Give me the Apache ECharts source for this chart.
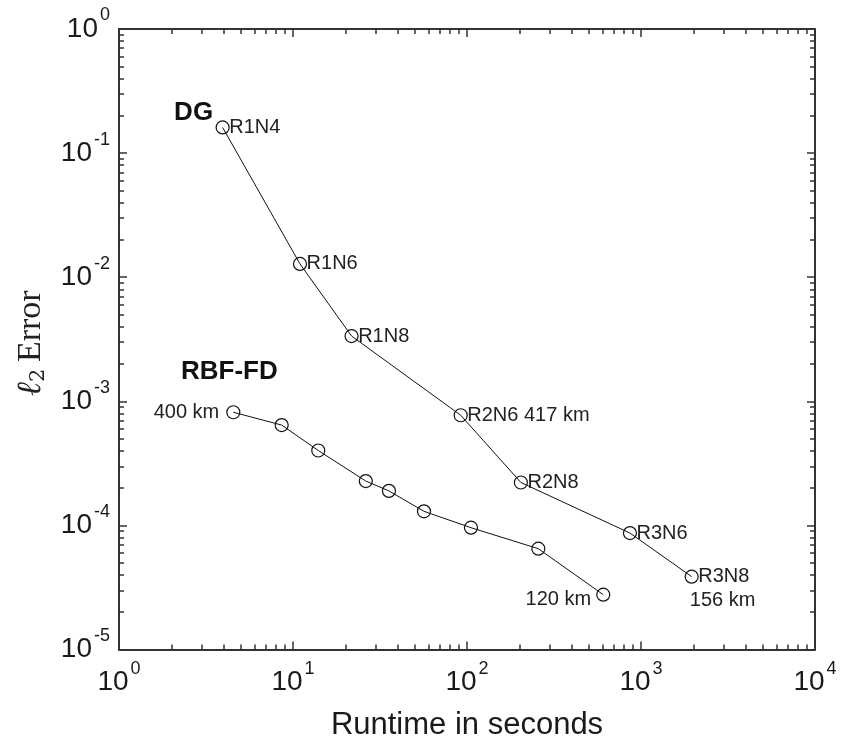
<!DOCTYPE html>
<html><head><meta charset="utf-8">
<script src="https://cdn.jsdelivr.net/npm/echarts@6/dist/echarts.min.js"></script>
<style>html,body{margin:0;padding:0;background:#fff}#c{width:852px;height:746px}</style>
</head><body><div id="c"></div>
<script>
// ---- data ----
const dgRuntime = [3.94, 10.97, 21.7, 92, 204, 864, 1955];
const dgError = [0.161, 0.0128, 0.00336, 7.73e-4, 2.22e-4, 8.69e-5, 3.87e-5];
const dgLabels = ['R1N4', 'R1N6', 'R1N8', 'R2N6 417 km', 'R2N8', 'R3N6', 'R3N8'];

const rbfRuntime = [4.54, 8.61, 13.97, 26.2, 35.6, 56.6, 105.4, 257, 607];
const rbfError = [8.17e-4, 6.44e-4, 4.02e-4, 2.28e-4, 1.90e-4, 1.30e-4, 9.6e-5, 6.5e-5, 2.77e-5];
const rbfLabels = ['400 km', '', '', '', '', '', '', '', '120 km'];

const xMajorExp = [0, 1, 2, 3, 4];
const yMajorExp = [-5, -4, -3, -2, -1, 0];

// ---- helpers ----
const xMinor = [], yMinor = [];
for (let d = 0; d < 4; d++) for (let k = 2; k <= 9; k++) xMinor.push(d + Math.log10(k));
for (let d = -5; d < 0; d++) for (let k = 2; k <= 9; k++) yMinor.push(d + Math.log10(k));

const FONT = 'Liberation Sans';
const AX = '#333';
const TXT = '#1a1a1a';
const labelRich = {
  b: { fontSize: 28, lineHeight: 44, verticalAlign: 'middle', color: TXT, fontFamily: FONT },
  s: { fontSize: 18, lineHeight: 18, verticalAlign: 'middle', padding: [0, 0, 27, 2], color: TXT, fontFamily: FONT }
};
const powFmt = v => '{b|10}{s|' + Math.round(Math.log10(v)) + '}';

function tickAxis(pos, min, max, vals, len, showLine) {
  return {
    type: 'value', position: pos, min: min, max: max,
    axisLine: { show: showLine, onZero: false, lineStyle: { color: AX, width: 2 } },
    axisTick: { show: true, inside: true, length: len, customValues: vals, lineStyle: { color: AX, width: 1.5 } },
    axisLabel: { show: false }, splitLine: { show: false }
  };
}

const option = {
  backgroundColor: '#fff',
  animation: false,
  textStyle: { fontFamily: FONT },
  grid: { left: 119, top: 29, width: 696, height: 632, containLabel: false },
  xAxis: [
    {
      type: 'log', logBase: 10, min: 1, max: 10000, position: 'bottom',
      axisLine: { show: true, onZero: false, lineStyle: { color: AX, width: 2 } },
      axisTick: { show: true, inside: true, length: 8, lineStyle: { color: AX, width: 1.5 } },
      axisLabel: { margin: 11, formatter: powFmt, rich: labelRich },
      splitLine: { show: false },
      name: 'Runtime in seconds', nameLocation: 'middle', nameGap: 54,
      nameTextStyle: { fontSize: 31, color: TXT, fontFamily: FONT }
    },
    tickAxis('bottom', 0, 4, xMinor, 5, false),
    tickAxis('top', 0, 4, xMajorExp, 8, true),
    tickAxis('top', 0, 4, xMinor, 5, false)
  ],
  yAxis: [
    {
      type: 'log', logBase: 10, min: 1e-5, max: 1, position: 'left',
      axisLine: { show: true, onZero: false, lineStyle: { color: AX, width: 2 } },
      axisTick: { show: true, inside: true, length: 8, lineStyle: { color: AX, width: 1.5 } },
      axisLabel: { margin: 9, formatter: powFmt, rich: labelRich },
      splitLine: { show: false },
      name: '{l|ℓ}{sub|2}  {e|Error}', nameLocation: 'middle', nameRotate: 90, nameGap: 70,
      nameTextStyle: {
        padding: [0, 8, 0, 0],
        rich: {
          l: { fontSize: 34, fontFamily: 'DejaVu Serif', fontStyle: 'italic', color: '#222', lineHeight: 36 },
          sub: { fontSize: 21, fontFamily: 'DejaVu Serif', color: '#222', lineHeight: 21, padding: [15, 0, 0, 0] },
          e: { fontSize: 34, fontFamily: 'Liberation Serif', color: '#222', lineHeight: 36 }
        }
      }
    },
    tickAxis('left', -5, 0, yMinor, 5, false),
    tickAxis('right', -5, 0, yMajorExp, 8, true),
    tickAxis('right', -5, 0, yMinor, 5, false)
  ],
  series: [
    {
      name: 'DG', type: 'line', xAxisIndex: 0, yAxisIndex: 0,
      data: dgRuntime.map((x, i) => [x, dgError[i]]),
      symbol: 'circle', symbolSize: 13,
      itemStyle: { color: 'rgba(0,0,0,0)', borderColor: '#111', borderWidth: 1.2 },
      lineStyle: { color: '#111', width: 1 },
      label: {
        show: true, position: 'right', distance: 0, offset: [-0.5, 0],
        formatter: p => dgLabels[p.dataIndex], fontSize: 20, color: '#222', fontFamily: FONT
      },
      z: 3
    },
    {
      name: 'RBF-FD', type: 'line', xAxisIndex: 0, yAxisIndex: 0,
      data: rbfRuntime.map((x, i) => ({
        value: [x, rbfError[i]],
        label: {
          show: rbfLabels[i] !== '', position: 'left',
          distance: i === 0 ? 7 : 5, offset: i === 0 ? [0, 0] : [0, 5]
        }
      })),
      symbol: 'circle', symbolSize: 13,
      itemStyle: { color: 'rgba(0,0,0,0)', borderColor: '#111', borderWidth: 1.2 },
      lineStyle: { color: '#111', width: 1 },
      label: { formatter: p => rbfLabels[p.dataIndex], fontSize: 20, color: '#222', fontFamily: FONT },
      z: 3
    },
    {
      name: 'annotations', type: 'scatter', xAxisIndex: 0, yAxisIndex: 0,
      symbol: 'circle', symbolSize: 1, itemStyle: { color: 'rgba(0,0,0,0)', opacity: 1 }, silent: true,
      data: [
        { value: [dgRuntime[0], dgError[0]], label: { formatter: 'DG', offset: [-29, -15], fontWeight: 'bold', fontSize: 26, color: '#111' } },
        { value: [rbfRuntime[0], rbfError[0]], label: { formatter: 'RBF-FD', offset: [-4, -40], fontWeight: 'bold', fontSize: 26, color: '#111' } },
        { value: [dgRuntime[6], dgError[6]], label: { formatter: '156 km', offset: [31, 24], fontSize: 20, color: '#222' } }
      ],
      label: { show: true, position: 'inside', color: '#222', fontFamily: FONT, opacity: 1 },
      emphasis: { disabled: true },
      z: 4
    }
  ]
};
const chart = echarts.init(document.getElementById('c'), null, { renderer: 'canvas' });
chart.setOption(option);
</script></body></html>
